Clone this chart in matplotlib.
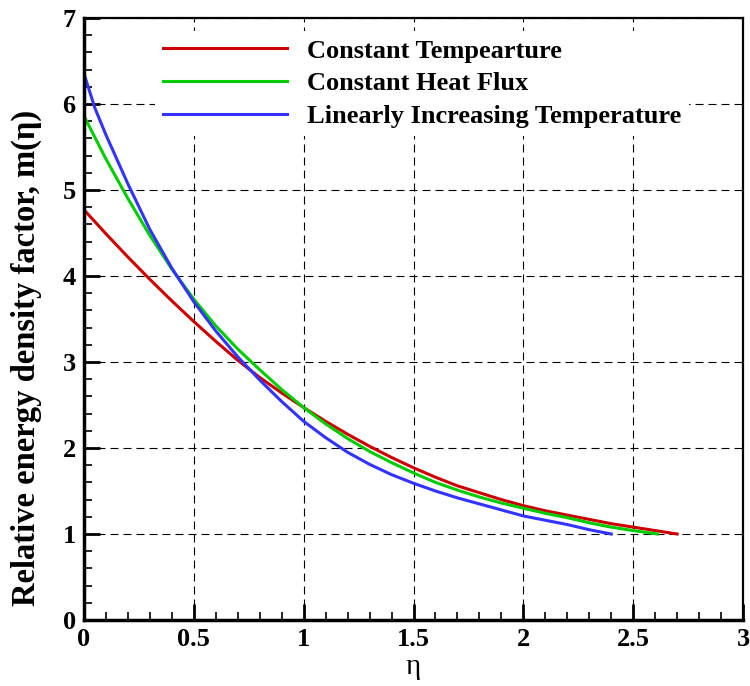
import numpy as np
import matplotlib.pyplot as plt
from matplotlib.ticker import MultipleLocator

# m(eta) for the three wall conditions
eta_ct = [0, 0.1, 0.2, 0.3, 0.4, 0.5, 0.6, 0.7, 0.8, 0.9, 1.0, 1.1, 1.2, 1.3,
          1.4, 1.5, 1.6, 1.7, 1.8, 1.9, 2.0, 2.1, 2.2, 2.3, 2.4, 2.5, 2.6, 2.7]
m_ct = [4.77, 4.49, 4.22, 3.96, 3.71, 3.47, 3.24, 3.02, 2.82, 2.64, 2.47, 2.31,
        2.16, 2.02, 1.89, 1.77, 1.66, 1.56, 1.48, 1.40, 1.33, 1.27, 1.22, 1.17,
        1.12, 1.08, 1.04, 1.00]

eta_hf = [0, 0.1, 0.2, 0.3, 0.4, 0.5, 0.6, 0.7, 0.8, 0.9, 1.0, 1.1, 1.2, 1.3,
          1.4, 1.5, 1.6, 1.7, 1.8, 1.9, 2.0, 2.1, 2.2, 2.3, 2.4, 2.5, 2.61]
m_hf = [5.86, 5.36, 4.90, 4.47, 4.08, 3.73, 3.42, 3.15, 2.91, 2.68, 2.47, 2.28,
        2.11, 1.96, 1.83, 1.71, 1.60, 1.51, 1.43, 1.36, 1.30, 1.24, 1.19, 1.13,
        1.08, 1.04, 1.00]

eta_lt = [0, 0.05, 0.1, 0.2, 0.3, 0.4, 0.5, 0.6, 0.7, 0.8, 0.9, 1.0, 1.1, 1.2,
          1.3, 1.4, 1.5, 1.6, 1.7, 1.8, 1.9, 2.0, 2.1, 2.2, 2.3, 2.4]
m_lt = [6.35, 5.95, 5.64, 5.07, 4.54, 4.09, 3.70, 3.36, 3.06, 2.79, 2.54, 2.31,
        2.12, 1.95, 1.81, 1.69, 1.59, 1.50, 1.42, 1.35, 1.28, 1.21, 1.16, 1.11,
        1.05, 1.00]

labels = ['Constant Tempearture', 'Constant Heat Flux',
          'Linearly Increasing Temperature']

plt.rcParams['font.family'] = ['Liberation Serif', 'DejaVu Serif']

fig = plt.figure(figsize=(7.5, 6.86), dpi=100)
ax = fig.add_axes([0.112, 0.0962, 0.8787, 0.8776])

ax.plot(eta_ct, m_ct, color='#cc0000', lw=2.2, label=labels[0])
ax.plot(eta_hf, m_hf, color='#00cc00', lw=2.2, label=labels[1])
ax.plot(eta_lt, m_lt, color='#3333ff', lw=2.2, label=labels[2])

ax.set_xlim(0, 3)
ax.set_ylim(0, 7)
ax.xaxis.set_major_locator(MultipleLocator(0.5))
ax.xaxis.set_minor_locator(MultipleLocator(0.1))
ax.yaxis.set_major_locator(MultipleLocator(1))
ax.yaxis.set_minor_locator(MultipleLocator(0.2))
ax.set_xticks([0, 0.5, 1, 1.5, 2, 2.5, 3])
ax.set_xticklabels(['0', '0.5', '1', '1.5', '2', '2.5', '3'])

ax.grid(True, which='major', color='black', lw=0.8, linestyle=(0, (7.2, 4.5)))
ax.set_axisbelow(True)

ax.tick_params(which='major', direction='in', length=11.5, width=2,
               labelsize=19, pad=6, top=False, right=False)
ax.tick_params(which='minor', direction='in', length=6, width=1.2,
               top=False, right=False)
for lab in ax.get_xticklabels() + ax.get_yticklabels():
    lab.set_fontweight('bold')

ax.spines['left'].set_linewidth(2.5)
ax.spines['bottom'].set_linewidth(2.5)
ax.spines['top'].set_linewidth(1.6)
ax.spines['right'].set_linewidth(1.6)

ax.set_xlabel('η', fontsize=21, labelpad=2)
ax.set_ylabel('Relative energy density factor, m(η)', fontsize=23.5,
              fontweight='bold')
ax.yaxis.set_label_coords(-0.064, 0.435)

leg = ax.legend(loc='upper left', bbox_to_anchor=(0.108, 0.978),
                borderaxespad=0, borderpad=0.3, frameon=True, fancybox=False,
                handlelength=4.7, handletextpad=0.75, labelspacing=0.35,
                prop={'size': 19, 'weight': 'bold'})
leg.get_frame().set_facecolor('white')
leg.get_frame().set_edgecolor('none')
leg.get_frame().set_alpha(1)

fig.savefig('out.png', dpi=100)
